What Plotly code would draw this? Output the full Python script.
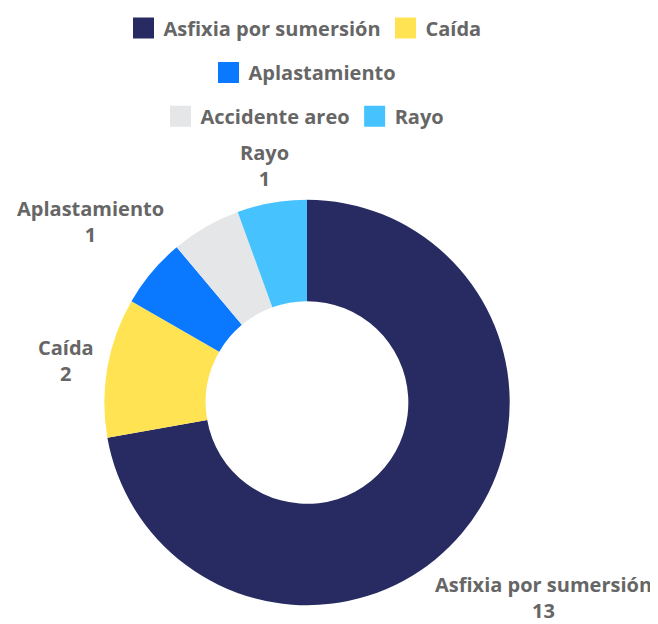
import math
import plotly.graph_objects as go

causes = ["Asfixia por sumersión", "Caída", "Aplastamiento", "Accidente areo", "Rayo"]
deaths = [13, 2, 1, 1, 1]
colors = ["#272b61", "#ffe352", "#0a78ff", "#e5e6e8", "#46c3ff"]
label_shown = [True, True, True, False, True]   # the "Accidente areo" label is hidden
legend_rows = [["Asfixia por sumersión", "Caída"], ["Aplastamiento"], ["Accidente areo", "Rayo"]]

W, H = 658, 624
OFF = 8                        # page body margin shifts the figure
CX, CY, R = 307 - OFF, 401 - OFF, 204     # pie centre / outer radius (px)
FONT = "Open Sans"
TEXT = "#666666"
FS = 20

fig = go.Figure()

# donut
fig.add_trace(go.Pie(
    labels=causes,
    values=deaths,
    sort=False,
    direction="clockwise",
    rotation=0,
    hole=0.5,
    marker=dict(colors=colors, line=dict(width=0)),
    textinfo="none",
    hoverinfo="label+value",
    showlegend=False,
    domain=dict(x=[(CX - R) / W, (CX + R) / W], y=[1 - (CY + R) / H, 1 - (CY - R) / H]),
))

# legend entries, split over three centred rows
for row, names in enumerate(legend_rows):
    key = "legend" if row == 0 else f"legend{row + 1}"
    for name in names:
        c = colors[causes.index(name)]
        fig.add_trace(go.Scatter(
            x=[None], y=[None],
            mode="markers",
            name=name,
            legend=key,
            hoverinfo="skip",
            marker=dict(symbol="square", size=16, color=c, line=dict(width=5, color=c)),
        ))

# outside labels, pushed out along each slice's mid angle
total = sum(deaths)
start = 0
for name, v, show in zip(causes, deaths, label_shown):
    mid = (start + v / 2) / total * 2 * math.pi
    start += v
    if not show:
        continue
    ux, uy = math.sin(mid), -math.cos(mid)
    w = 0.53 * FS * len(name)
    h = 2.5 * FS
    d = R + 10 + abs(ux) * w / 2 + abs(uy) * h / 2
    px, py = CX + ux * d, CY + uy * d
    # keep inside the page
    px = min(max(px, w / 2 + 3), W - OFF - 3 - w / 2)
    py = min(max(py, h / 2 + 3), H - OFF - 2 - h / 2)
    fig.add_annotation(
        x=px / W, y=1 - py / H, xref="paper", yref="paper",
        text=f"{name}<br>{v}",
        showarrow=False,
        xanchor="center", yanchor="middle",
        font=dict(family=FONT, size=FS, color=TEXT, weight="bold"),
    )

legend_y = [24, 69, 113]
layout_legends = {}
for row, y in enumerate(legend_y):
    key = "legend" if row == 0 else f"legend{row + 1}"
    layout_legends[key] = dict(
        orientation="h",
        x=(305 - OFF) / W, xanchor="center",
        y=1 - (y - OFF) / H, yanchor="middle",
        bgcolor="rgba(0,0,0,0)",
        font=dict(family=FONT, size=FS, color=TEXT, weight="bold"),
    )

fig.update_layout(
    width=W,
    height=H,
    margin=dict(l=0, r=0, t=0, b=0),
    paper_bgcolor="white",
    plot_bgcolor="white",
    xaxis=dict(visible=False),
    yaxis=dict(visible=False),
    **layout_legends,
)

fig.write_html("out.html")
